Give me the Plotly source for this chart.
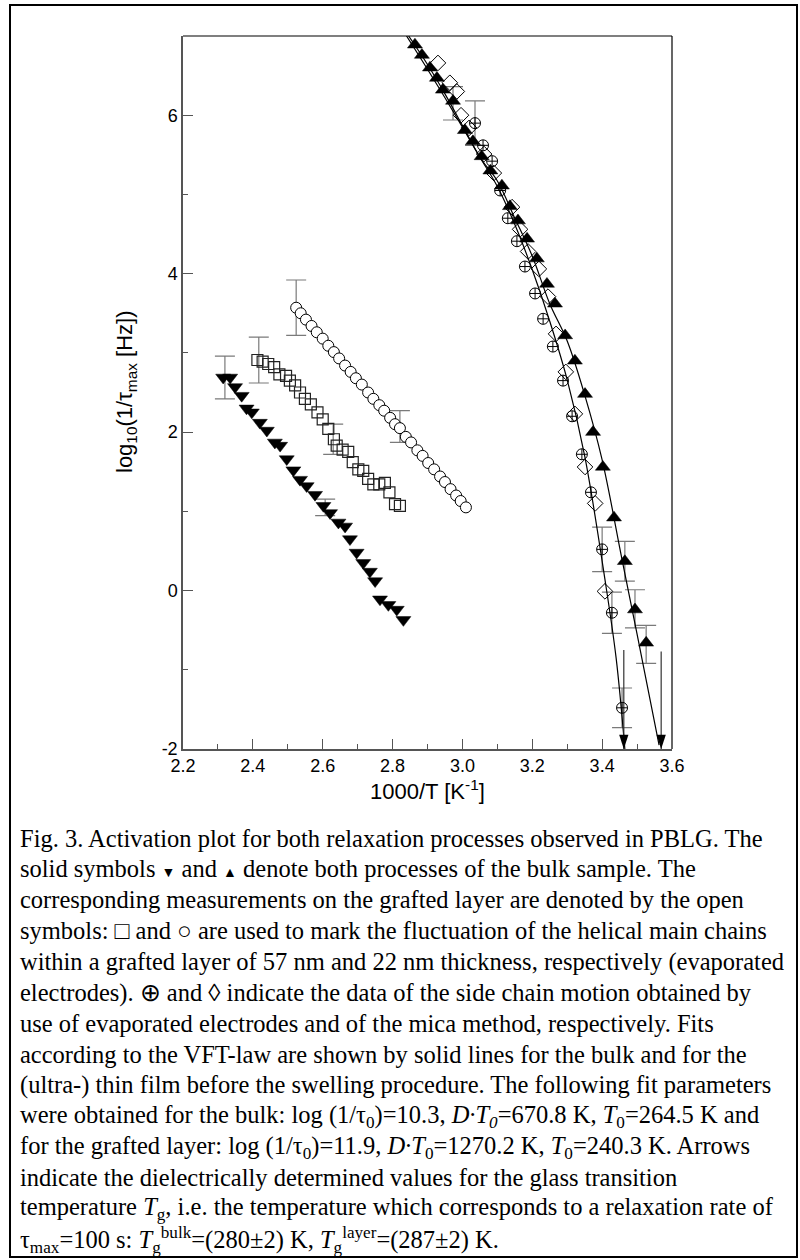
import plotly.graph_objects as go

# ---------------- data ----------------
# bulk, main chain (filled down triangles)
bulk_main_x = [2.315, 2.335, 2.349, 2.368, 2.382, 2.397, 2.420, 2.440, 2.463, 2.478, 2.497, 2.516,
               2.535, 2.554, 2.578, 2.602, 2.621, 2.645, 2.664, 2.678, 2.697, 2.716, 2.735, 2.750,
               2.764, 2.788, 2.812, 2.831]
bulk_main_y = [2.69, 2.69, 2.57, 2.46, 2.30, 2.25, 2.12, 2.02, 1.87, 1.83, 1.66, 1.52,
               1.40, 1.32, 1.21, 1.07, 0.98, 0.86, 0.81, 0.65, 0.48, 0.35, 0.24, 0.12,
               -0.11, -0.18, -0.24, -0.37]

# grafted layer 57 nm (open squares)
sq_x = [2.413, 2.428, 2.444, 2.461, 2.476, 2.495, 2.506, 2.521, 2.535, 2.549, 2.566, 2.585,
        2.600, 2.616, 2.632, 2.640, 2.657, 2.673, 2.686, 2.702, 2.716, 2.730, 2.745, 2.762,
        2.778, 2.791, 2.807, 2.821]
sq_y = [2.91, 2.89, 2.86, 2.82, 2.73, 2.71, 2.65, 2.59, 2.50, 2.42, 2.35, 2.25,
        2.16, 2.04, 1.91, 1.83, 1.78, 1.75, 1.62, 1.53, 1.51, 1.41, 1.34, 1.34,
        1.36, 1.24, 1.09, 1.07]

# grafted layer 22 nm (open circles)
circ_x = [2.524, 2.537, 2.552, 2.568, 2.583, 2.600, 2.616, 2.632, 2.647, 2.664, 2.680, 2.695,
          2.712, 2.730, 2.745, 2.762, 2.776, 2.793, 2.807, 2.821, 2.838, 2.853, 2.871, 2.886,
          2.902, 2.919, 2.936, 2.950, 2.966, 2.982, 2.995, 3.010]
circ_y = [3.57, 3.50, 3.42, 3.34, 3.26, 3.18, 3.09, 3.01, 2.93, 2.84, 2.76, 2.68,
          2.60, 2.50, 2.42, 2.34, 2.27, 2.18, 2.10, 2.05, 1.94, 1.87, 1.77, 1.70,
          1.61, 1.53, 1.44, 1.37, 1.28, 1.20, 1.13, 1.05]

# bulk, side chain (filled up triangles)
bulk_side_x = [2.864, 2.884, 2.907, 2.927, 2.944, 2.973, 3.007, 3.030, 3.055, 3.080, 3.113, 3.136,
               3.159, 3.185, 3.213, 3.242, 3.265, 3.294, 3.322, 3.351, 3.374, 3.402, 3.434, 3.465,
               3.494, 3.526]
bulk_side_y = [6.89, 6.76, 6.60, 6.47, 6.32, 6.18, 5.81, 5.67, 5.48, 5.30, 5.11, 4.85,
               4.67, 4.44, 4.19, 3.87, 3.62, 3.22, 2.90, 2.48, 2.00, 1.56, 0.92, 0.37,
               -0.24, -0.66]

# grafted layer, side chain, evaporated electrodes (circle with cross)
cplus_x = [3.036, 3.059, 3.085, 3.108, 3.130, 3.156, 3.179, 3.208, 3.231, 3.259, 3.288, 3.314,
           3.342, 3.368, 3.400, 3.428, 3.457]
cplus_y = [5.90, 5.62, 5.42, 5.05, 4.70, 4.41, 4.09, 3.75, 3.43, 3.08, 2.65, 2.20,
           1.72, 1.24, 0.52, -0.28, -1.48]

# grafted layer, side chain, mica method (open diamonds)
dia_x = [2.930, 2.964, 2.984, 2.996, 3.019, 3.062, 3.090, 3.142, 3.165, 3.188, 3.219, 3.245,
         3.268, 3.296, 3.322, 3.351, 3.380, 3.408]
dia_y = [6.66, 6.41, 6.30, 6.00, 5.84, 5.51, 5.27, 4.84, 4.56, 4.28, 4.06, 3.71,
         3.24, 2.76, 2.23, 1.56, 1.10, -0.01]

# VFT fit curves
fit_bulk_x = [2.846, 2.90, 2.95, 3.00, 3.05, 3.10, 3.15, 3.20, 3.25, 3.30, 3.35, 3.40, 3.457, 3.50, 3.563]
fit_bulk_y = [7.00, 6.64, 6.27, 5.87, 5.47, 5.17, 4.70, 4.22, 3.62, 3.15, 2.47, 1.65, 0.39, -0.55, -1.95]
fit_layer_x = [2.840, 2.90, 2.95, 3.00, 3.05, 3.10, 3.15, 3.20, 3.25, 3.30, 3.35, 3.408, 3.44, 3.465]
fit_layer_y = [7.00, 6.58, 6.22, 5.85, 5.47, 5.10, 4.62, 4.05, 3.40, 2.66, 1.70, 0.14, -0.85, -2.00]

# error bars: x, y, +/- error
err_x = [2.320, 2.607, 2.417, 2.630, 2.524, 2.821, 2.973, 3.036, 3.400, 3.428, 3.457, 3.465, 3.494, 3.526]
err_y = [2.69, 1.05, 2.91, 1.91, 3.57, 2.07, 6.15, 5.90, 0.52, -0.28, -1.48, 0.37, -0.23, -0.68]
err_v = [0.27, 0.105, 0.29, 0.19, 0.35, 0.20, 0.21, 0.28, 0.28, 0.26, 0.25, 0.25, 0.24, 0.24]

# glass transition arrows: x, start y, end y
arrow_x = [3.462, 3.569]
arrow_y0 = [-0.75, -0.77]
arrow_y1 = [-2.0, -2.0]

x_ticks = [2.2, 2.4, 2.6, 2.8, 3.0, 3.2, 3.4, 3.6]
y_ticks = [-2, 0, 2, 4, 6]

caption_lines = [
    "Fig. 3. Activation plot for both relaxation processes observed in PBLG. The",
    "solid symbols <span style=\"font-size:14px\">▼</span> and <span style=\"font-size:14px\">▲</span> denote both processes of the bulk sample. The",
    "corresponding measurements on the grafted layer are denoted by the open",
    "symbols: □ and ○ are used to mark the fluctuation of the helical main chains",
    "within a grafted layer of 57 nm and 22 nm thickness, respectively (evaporated",
    "electrodes). ⊕ and ◊ indicate the data of the side chain motion obtained by",
    "use of evaporated electrodes and of the mica method, respectively. Fits",
    "according to the VFT-law are shown by solid lines for the bulk and for the",
    "(ultra-) thin film before the swelling procedure. The following fit parameters",
    "were obtained for the bulk: log (1/τ<sub>0</sub>)=10.3, <i>D·T<sub>0</sub></i>=670.8 K, <i>T</i><sub>0</sub>=264.5 K and",
    "for the grafted layer: log (1/τ<sub>0</sub>)=11.9, <i>D·T</i><sub>0</sub>=1270.2 K, <i>T</i><sub>0</sub>=240.3 K. Arrows",
    "indicate the dielectrically determined values for the glass transition",
    "temperature <i>T</i><sub>g</sub>, i.e. the temperature which corresponds to a relaxation rate of",
    "τ<sub>max</sub>=100 s: <i>T</i><sub>g</sub><sup>bulk</sup>=(280±2) K, <i>T</i><sub>g</sub><sup>layer</sup>=(287±2) K.",
]

# ---------------- figure ----------------
W, H = 800, 1260
L, R, T, B = 183, 128, 36, 511
PW, PH = W - L - R, H - T - B


def px2paper_x(px):
    return (px - L) / PW


def px2paper_y(py):
    return (H - B - py) / PH


fig = go.Figure()

# error bars (drawn first, below markers)
fig.add_trace(go.Scatter(
    x=err_x, y=err_y, mode="markers",
    marker=dict(size=1, color="rgba(0,0,0,0)"),
    error_y=dict(type="data", array=err_v, visible=True, color="#7a7a7a", thickness=1.2, width=10),
    hoverinfo="skip", showlegend=False))

# fit lines
fig.add_trace(go.Scatter(x=fit_bulk_x, y=fit_bulk_y, mode="lines",
                         line=dict(color="black", width=1.2, shape="spline"), showlegend=False))
fig.add_trace(go.Scatter(x=fit_layer_x, y=fit_layer_y, mode="lines",
                         line=dict(color="black", width=1.2, shape="spline"), showlegend=False))

# Tg arrows (shaft + arrow head marker at the lower end)
for ax_, y0_, y1_ in zip(arrow_x, arrow_y0, arrow_y1):
    fig.add_trace(go.Scatter(x=[ax_, ax_], y=[y0_, y1_], mode="lines",
                             line=dict(color="#333", width=1.2), showlegend=False, hoverinfo="skip"))
    fig.add_trace(go.Scatter(x=[ax_], y=[y1_], mode="markers",
                             marker=dict(symbol="arrow", angle=180, size=15, color="black",
                                         line=dict(width=0)),
                             showlegend=False, hoverinfo="skip", cliponaxis=False))

# data series
fig.add_trace(go.Scatter(x=bulk_main_x, y=bulk_main_y, mode="markers", name="bulk main",
                         marker=dict(symbol="triangle-down", size=13, color="black",
                                     line=dict(color="black", width=0.5)), showlegend=False))
fig.add_trace(go.Scatter(x=sq_x, y=sq_y, mode="markers", name="57 nm",
                         marker=dict(symbol="square-open", size=11, color="#222",
                                     line=dict(color="#222", width=1.2)), showlegend=False))
fig.add_trace(go.Scatter(x=circ_x, y=circ_y, mode="markers", name="22 nm",
                         marker=dict(symbol="circle", size=11, color="white",
                                     line=dict(color="black", width=1)), showlegend=False))
fig.add_trace(go.Scatter(x=cplus_x, y=cplus_y, mode="markers", name="evap",
                         marker=dict(symbol="circle-cross-open", size=11, color="black",
                                     line=dict(color="black", width=1)), showlegend=False))
fig.add_trace(go.Scatter(x=dia_x, y=dia_y, mode="markers", name="mica",
                         marker=dict(symbol="diamond-open", size=12, color="black",
                                     line=dict(color="black", width=1)), showlegend=False))
fig.add_trace(go.Scatter(x=bulk_side_x, y=bulk_side_y, mode="markers", name="bulk side",
                         marker=dict(symbol="triangle-up", size=13, color="black",
                                     line=dict(color="black", width=0.5)), showlegend=False))

annotations = []
# axis titles
annotations.append(dict(text="1000/T [K<sup>-1</sup>]", xref="paper", yref="paper",
                        x=px2paper_x(427), y=px2paper_y(790), showarrow=False,
                        xanchor="center", yanchor="middle",
                        font=dict(family="Liberation Sans, Arial", size=22, color="black")))
annotations.append(dict(text="log<sub>10</sub>(1/τ<sub>max</sub> [Hz])", xref="paper", yref="paper",
                        x=px2paper_x(126), y=px2paper_y(392), showarrow=False, textangle=-90,
                        xanchor="center", yanchor="middle",
                        font=dict(family="Liberation Sans, Arial", size=22, color="black")))

# caption
cap_y0, cap_dy = 838, 30.9
for i, line in enumerate(caption_lines):
    annotations.append(dict(text=line, xref="paper", yref="paper",
                            x=px2paper_x(18), y=px2paper_y(cap_y0 + i * cap_dy),
                            showarrow=False, xanchor="left", yanchor="middle", align="left",
                            font=dict(family="Liberation Serif, Times New Roman", size=24.5, color="black")))

shapes = [
    # outer frame
    dict(type="rect", xref="paper", yref="paper",
         x0=px2paper_x(10), x1=px2paper_x(797), y0=px2paper_y(1257), y1=px2paper_y(5),
         line=dict(color="black", width=2)),
    # top and right border of plot
    dict(type="line", xref="paper", yref="paper", x0=0, x1=1, y0=1, y1=1,
         line=dict(color="black", width=1.2)),
    dict(type="line", xref="paper", yref="paper", x0=1, x1=1, y0=0, y1=1,
         line=dict(color="black", width=1.2)),
]

axis_font = dict(family="Liberation Sans, Arial", size=18, color="black")
fig.update_layout(
    width=W, height=H,
    margin=dict(l=L, r=R, t=T, b=B, pad=0),
    paper_bgcolor="white", plot_bgcolor="white",
    showlegend=False,
    annotations=annotations, shapes=shapes,
    xaxis=dict(range=[2.2, 3.6], tickvals=x_ticks, ticktext=[f"{v:.1f}" for v in x_ticks],
               ticks="inside", ticklen=10, tickwidth=1, tickcolor="#555",
               minor=dict(dtick=0.1, ticks="inside", ticklen=5, tickcolor="#555", showgrid=False),
               showline=True, linecolor="#555", linewidth=1.5, showgrid=False, zeroline=False,
               tickfont=axis_font),
    yaxis=dict(range=[-2, 7], tickvals=y_ticks, ticktext=[str(v) for v in y_ticks],
               ticks="inside", ticklen=10, tickwidth=1, tickcolor="#555",
               minor=dict(dtick=1, ticks="inside", ticklen=5, tickcolor="#555", showgrid=False),
               showline=True, linecolor="#555", linewidth=1.5, showgrid=False, zeroline=False,
               tickfont=axis_font),
)

fig.write_html("out.html")
